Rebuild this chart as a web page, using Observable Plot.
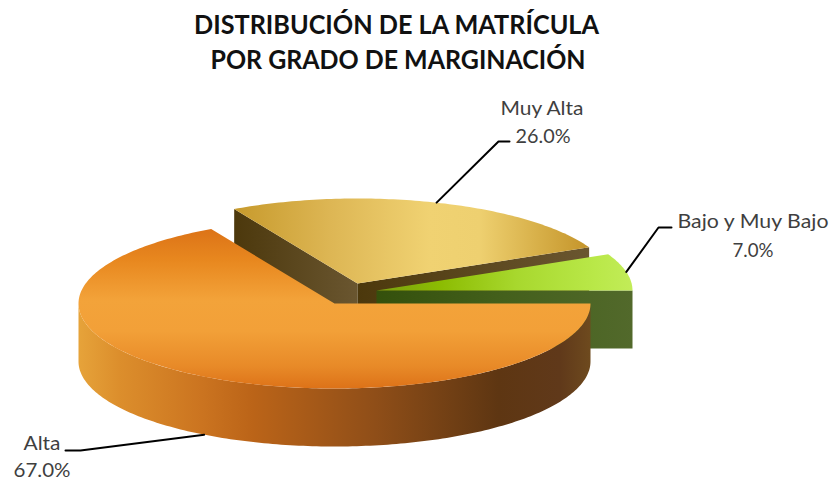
<!DOCTYPE html>
<html><head><meta charset="utf-8">
<script src="https://cdn.jsdelivr.net/npm/d3@7"></script>
<script src="https://cdn.jsdelivr.net/npm/@observablehq/plot@0.6"></script>
<style>
html,body{margin:0;padding:0;background:#fff;}
#chart{width:830px;height:479px;}
</style>
</head><body>
<svg width="0" height="0" style="position:absolute">
<defs>
  <linearGradient id="altaTop" x1="0" y1="0" x2="0" y2="1">
    <stop offset="0" stop-color="#DC7317"/>
    <stop offset="0.2" stop-color="#E8881F"/>
    <stop offset="0.45" stop-color="#F3A33A"/>
    <stop offset="0.64" stop-color="#F2A038"/>
    <stop offset="0.86" stop-color="#E88A28"/>
    <stop offset="1" stop-color="#DD7218"/>
  </linearGradient>
  <linearGradient id="altaSide" x1="0" y1="0" x2="1" y2="0">
    <stop offset="0" stop-color="#E6A33A"/>
    <stop offset="0.08" stop-color="#DC8E2C"/>
    <stop offset="0.24" stop-color="#CB7420"/>
    <stop offset="0.34" stop-color="#BB6418"/>
    <stop offset="0.58" stop-color="#8F4E18"/>
    <stop offset="0.82" stop-color="#5E3612"/>
    <stop offset="0.94" stop-color="#60391A"/>
    <stop offset="1" stop-color="#6E4A1E"/>
  </linearGradient>
  <linearGradient id="muyTop" x1="0" y1="0" x2="1" y2="0">
    <stop offset="0" stop-color="#C79A2C"/>
    <stop offset="0.27" stop-color="#DDB654"/>
    <stop offset="0.55" stop-color="#F0D272"/>
    <stop offset="0.69" stop-color="#EED070"/>
    <stop offset="0.86" stop-color="#D7AF48"/>
    <stop offset="1" stop-color="#C4942A"/>
  </linearGradient>
  <linearGradient id="muyFace" x1="0" y1="0" x2="1" y2="0">
    <stop offset="0" stop-color="#4C380C"/>
    <stop offset="1" stop-color="#6A5630"/>
  </linearGradient>
  <linearGradient id="bajoTop" x1="0" y1="0" x2="1" y2="0">
    <stop offset="0" stop-color="#7AA010"/>
    <stop offset="0.25" stop-color="#8CBC02"/>
    <stop offset="0.55" stop-color="#A8D82E"/>
    <stop offset="0.85" stop-color="#B9E848"/>
    <stop offset="1" stop-color="#C2EC58"/>
  </linearGradient>
  <linearGradient id="bajoFace" x1="0" y1="0" x2="1" y2="0">
    <stop offset="0" stop-color="#34500C"/>
    <stop offset="0.5" stop-color="#44601C"/>
    <stop offset="1" stop-color="#52692B"/>
  </linearGradient>
</defs>
</svg>
<div id="chart"></div>
<script>
// ---- data ----
const categories = ["Alta", "Muy Alta", "Bajo y Muy Bajo"];
const shares = [67.0, 26.0, 7.0];
const titleLines = ["DISTRIBUCIÓN DE LA MATRÍCULA", "POR GRADO DE MARGINACIÓN"];

// ---- layout / style constants ----
const W = 830, H = 479;
const CX = 334, CY = 303, RX = 256, RY = 85, DEPTH = 58;
const explode = [[0, 0], [23, -20], [42, -13]];
const fills = [
  {top: "url(#altaTop)", side: "url(#altaSide)", face: "url(#altaSide)"},
  {top: "url(#muyTop)", side: "url(#muyFace)", face: "url(#muyFace)"},
  {top: "url(#bajoTop)", side: "url(#bajoFace)", face: "url(#bajoFace)"}
];
// label anchors (name center/baseline, value center/baseline, leader elbow, leader end)
const labelLayout = [
  {name: [41.5, 449], value: [41.5, 476], elbow: [80, 450], end: [65, 450], nameW: 37, valueW: 57},
  {name: [541.5, 114], value: [542.5, 142], elbow: [498, 141], end: [509, 141], nameW: 83, valueW: 55},
  {name: [752.5, 227], value: [752.5, 256], elbow: [658, 227], end: [671, 227], nameW: 151, valueW: 41}
];
const titlePos = [[396, 33, 405], [397.5, 68, 375]];

// ---- geometry from data ----
const TAU = 2 * Math.PI;
let cum = 0;
const slices = shares.map((v, i) => {
  const a0 = cum / 100 * TAU; cum += v; const a1 = cum / 100 * TAU;
  return {i, v, a0, a1, mid: (a0 + a1) / 2, cx: CX + explode[i][0], cy: CY + explode[i][1]};
});
const pt = (s, a, dz = 0) => ({x: s.cx + RX * Math.cos(a), y: s.cy + RY * Math.sin(a) + dz});
function arc(s, a0, a1, dz) {
  const n = Math.max(2, Math.ceil(Math.abs(a1 - a0) / (Math.PI / 180)));
  return d3.range(n + 1).map(k => pt(s, a0 + (a1 - a0) * k / n, dz));
}
function topFace(s) { return [{x: s.cx, y: s.cy}, ...arc(s, s.a0, s.a1, 0)]; }
function radialFace(s, a) {
  const p = pt(s, a), q = pt(s, a, DEPTH);
  return [{x: s.cx, y: s.cy}, p, q, {x: s.cx, y: s.cy + DEPTH}];
}
function outerSide(s, lo, hi) {
  return [...arc(s, lo, hi, 0), ...arc(s, hi, lo, DEPTH)];
}

const marks = [];
const order = [...slices].sort((a, b) => Math.sin(a.mid) - Math.sin(b.mid));
for (const s of order) {
  const f = fills[s.i];
  if (Math.cos(s.a0) < 0) marks.push(Plot.line(radialFace(s, s.a0), {x: "x", y: "y", fill: f.face, stroke: "none"}));
  if (Math.cos(s.a1) > 1e-9) marks.push(Plot.line(radialFace(s, s.a1), {x: "x", y: "y", fill: f.face, stroke: "none"}));
  const lo = Math.max(s.a0, 0), hi = Math.min(s.a1, Math.PI);
  if (lo < hi) marks.push(Plot.line(outerSide(s, lo, hi), {x: "x", y: "y", fill: f.side, stroke: "none"}));
  marks.push(Plot.line(topFace(s), {x: "x", y: "y", fill: f.top, stroke: "none"}));
}

// leader lines: from arc point at mid-angle (bottom of side if in front) to label
slices.forEach(s => {
  const L = labelLayout[s.i];
  const start = pt(s, s.mid, Math.sin(s.mid) > 0 ? DEPTH : 0);
  marks.push(Plot.line([start, {x: L.elbow[0], y: L.elbow[1]}, {x: L.end[0], y: L.end[1]}],
    {x: "x", y: "y", stroke: "#000", strokeWidth: 2}));
});

// labels
const labelRows = [];
slices.forEach(s => {
  const L = labelLayout[s.i];
  labelRows.push({x: L.name[0], y: L.name[1], t: categories[s.i], w: L.nameW});
  labelRows.push({x: L.value[0], y: L.value[1], t: s.v.toFixed(1) + "%", w: L.valueW});
});
marks.push(Plot.text(labelRows, {x: "x", y: "y", text: "t", textAnchor: "middle", lineAnchor: "bottom",
  fontFamily: "Lato", fontSize: 19, fill: "#3f3f3f"}));

// title
const titleRows = titleLines.map((t, k) => ({x: titlePos[k][0], y: titlePos[k][1], t, w: titlePos[k][2]}));
marks.push(Plot.text(titleRows, {x: "x", y: "y", text: "t", textAnchor: "middle", lineAnchor: "bottom",
  fontFamily: "Lato", fontWeight: "bold", fontSize: 27, fill: "#111"}));

const chart = Plot.plot({
  width: W, height: H, margin: 0,
  x: {domain: [0, W], range: [0, W], axis: null},
  y: {domain: [0, H], range: [0, H], axis: null},
  style: {background: "white", overflow: "visible"},
  marks
});
// fit text widths to the reference
const widthMap = new Map([...labelRows, ...titleRows].map(r => [r.t, r.w]));
chart.querySelectorAll("text").forEach(el => {
  const w = widthMap.get(el.textContent);
  if (w) { el.setAttribute("textLength", w); el.setAttribute("lengthAdjust", "spacingAndGlyphs"); }
});
document.getElementById("chart").appendChild(chart);
</script>
</body></html>
